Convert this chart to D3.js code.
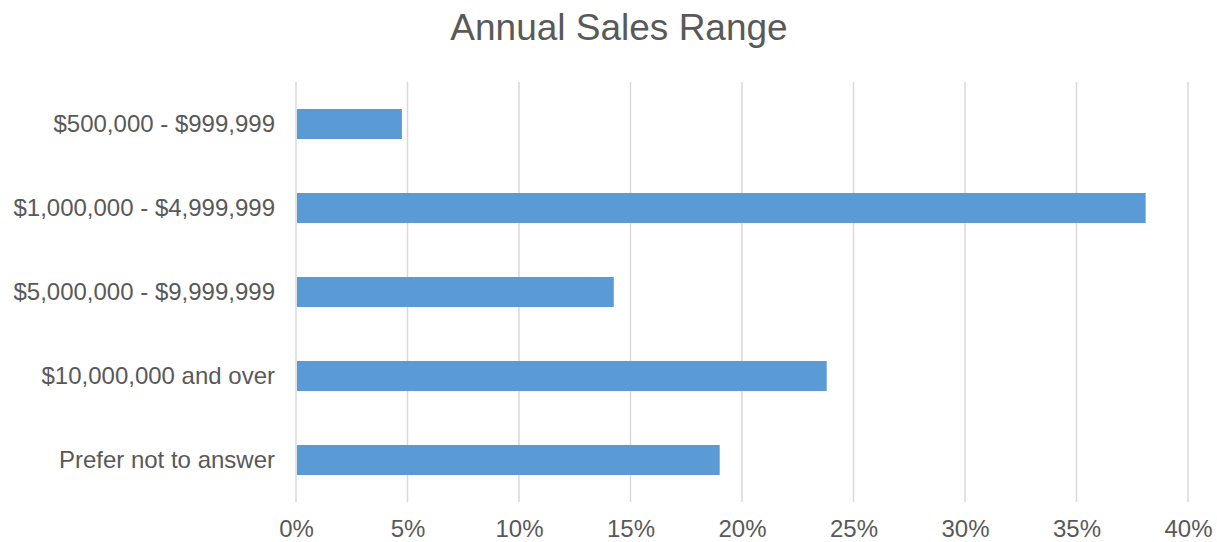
<!DOCTYPE html>
<html>
<head>
<meta charset="utf-8">
<script src="https://cdn.jsdelivr.net/npm/d3@7"></script>
<style>
  html, body { margin: 0; padding: 0; background: #fff; }
  svg { display: block; font-family: "Liberation Sans", Arial, sans-serif; }
</style>
</head>
<body>
<svg id="chart" width="1217" height="542"></svg>
<script>
// Share of respondents by annual sales range
const categories = [
  "$500,000 - $999,999",
  "$1,000,000 - $4,999,999",
  "$5,000,000 - $9,999,999",
  "$10,000,000 and over",
  "Prefer not to answer"
];
const shares = [4.75, 38.1, 14.25, 23.8, 19.0];
const tickValues = [0, 5, 10, 15, 20, 25, 30, 35, 40];
const title = "Annual Sales Range";

const svg = d3.select("#chart");
const margin = { top: 82, right: 29, bottom: 40, left: 296 };
const width = 1217, height = 542;

const x = d3.scaleLinear()
  .domain([0, 40])
  .range([margin.left, width - margin.right]);

const y = d3.scaleBand()
  .domain(categories)
  .range([margin.top, height - margin.bottom])
  .paddingInner(0.643)
  .paddingOuter(0.3215);

const textColor = "#595959";

// vertical gridlines
svg.append("g")
  .selectAll("line")
  .data(tickValues)
  .join("line")
  .attr("x1", d => x(d)).attr("x2", d => x(d))
  .attr("y1", margin.top).attr("y2", height - margin.bottom)
  .attr("stroke", "#D9D9D9")
  .attr("stroke-width", 1.5);

// bars
svg.append("g")
  .selectAll("rect")
  .data(categories)
  .join("rect")
  .attr("x", x(0) + 1)
  .attr("y", d => y(d))
  .attr("width", (d, i) => x(shares[i]) - x(0) - 1)
  .attr("height", y.bandwidth())
  .attr("fill", "#5B9BD5");

// x axis labels
const xAxis = d3.axisBottom(x)
  .tickValues(tickValues)
  .tickFormat(d => d + "%")
  .tickSize(0)
  .tickPadding(0);
const gx = svg.append("g")
  .attr("transform", `translate(0,${height - margin.bottom})`)
  .call(xAxis);
gx.select(".domain").remove();
gx.selectAll("text")
  .attr("y", 35)
  .attr("dy", 0)
  .attr("fill", textColor)
  .attr("font-size", 24)
  .attr("font-family", "Liberation Sans, Arial, sans-serif");

// y axis labels
const yAxis = d3.axisLeft(y).tickSize(0).tickPadding(21);
const gy = svg.append("g")
  .attr("transform", `translate(${margin.left},0)`)
  .call(yAxis);
gy.select(".domain").remove();
gy.selectAll("text")
  .attr("fill", textColor)
  .attr("font-size", 24)
  .attr("dy", "0.35em")
  .attr("font-family", "Liberation Sans, Arial, sans-serif");

// title
svg.append("text")
  .attr("x", 619)
  .attr("y", 40)
  .attr("text-anchor", "middle")
  .attr("fill", textColor)
  .attr("font-size", 37)
  .text(title);
</script>
</body>
</html>
